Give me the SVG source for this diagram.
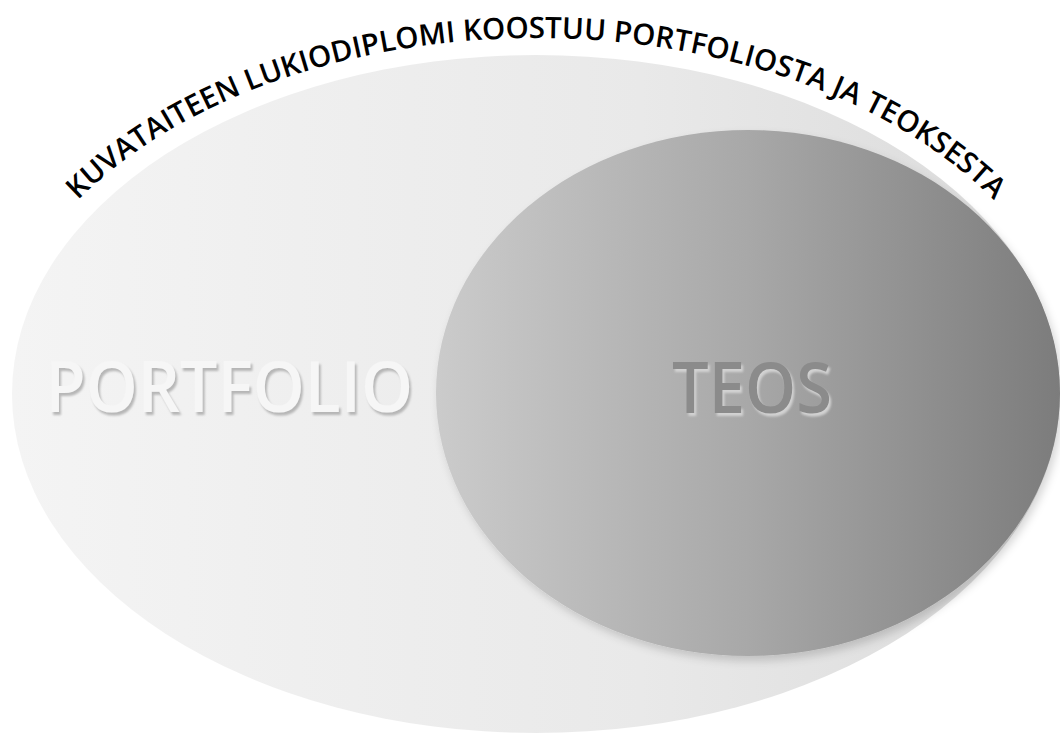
<svg xmlns="http://www.w3.org/2000/svg" width="1060" height="734" viewBox="0 0 1060 734">
  <defs>
    <linearGradient id="gOuter" x1="0" y1="0" x2="1" y2="0">
      <stop offset="0" stop-color="#f4f4f4"/>
      <stop offset="0.6" stop-color="#e9e9e9"/>
      <stop offset="1" stop-color="#dadada"/>
    </linearGradient>
    <linearGradient id="gInner" x1="0" y1="0" x2="1" y2="0">
      <stop offset="0" stop-color="#cbcbcb"/>
      <stop offset="0.5" stop-color="#a8a8a8"/>
      <stop offset="1" stop-color="#7c7c7c"/>
    </linearGradient>
    <filter id="shadow" x="-10%" y="-10%" width="120%" height="125%">
      <feDropShadow dx="3" dy="5" stdDeviation="4" flood-color="#000" flood-opacity="0.16"/>
    </filter>
    <filter id="embossDark" x="-5%" y="-30%" width="115%" height="160%">
      <feOffset in="SourceAlpha" dx="2" dy="3" result="off"/>
      <feGaussianBlur in="off" stdDeviation="1.1" result="blur"/>
      <feFlood flood-color="#b0b0b0" flood-opacity="0.9"/>
      <feComposite in2="blur" operator="in" result="sh"/>
      <feMerge>
        <feMergeNode in="sh"/>
        <feMergeNode in="SourceGraphic"/>
      </feMerge>
    </filter>
    <filter id="embossLight" x="-5%" y="-30%" width="115%" height="160%">
      <feOffset in="SourceAlpha" dx="2" dy="2.5" result="off"/>
      <feGaussianBlur in="off" stdDeviation="1" result="blur"/>
      <feFlood flood-color="#d2d2d2" flood-opacity="1"/>
      <feComposite in2="blur" operator="in" result="sh"/>
      <feMerge>
        <feMergeNode in="sh"/>
        <feMergeNode in="SourceGraphic"/>
      </feMerge>
    </filter>
    <path id="arc" d="M -10 394 A 546 356 0 0 1 1082 394"/>
    <style>
      .title { font-family: "Open Sans", "Liberation Sans", sans-serif; font-weight: 600; font-size: 29.5px; fill: #000; }
      .big { font-family: "Open Sans", "Liberation Sans", sans-serif; font-weight: 600; font-size: 70px; text-anchor: middle; }
    </style>
  </defs>

  <rect width="1060" height="734" fill="#ffffff"/>

  <g id="portfolio">
    <ellipse cx="536" cy="394" rx="524" ry="339" fill="url(#gOuter)"/>
    <text class="big" x="229" y="412" textLength="368" lengthAdjust="spacingAndGlyphs" fill="#f6f6f6" filter="url(#embossDark)">PORTFOLIO</text>
  </g>

  <g id="teos">
    <ellipse cx="748" cy="393" rx="312" ry="263" fill="url(#gInner)" filter="url(#shadow)"/>
    <text class="big" x="752" y="413" textLength="160" lengthAdjust="spacingAndGlyphs" fill="#8b8b8b" filter="url(#embossLight)">TEOS</text>
  </g>

  <g id="title">
    <text class="title"><textPath href="#arc" startOffset="50%" text-anchor="middle">KUVATAITEEN LUKIODIPLOMI KOOSTUU PORTFOLIOSTA JA TEOKSESTA</textPath></text>
  </g>
</svg>
